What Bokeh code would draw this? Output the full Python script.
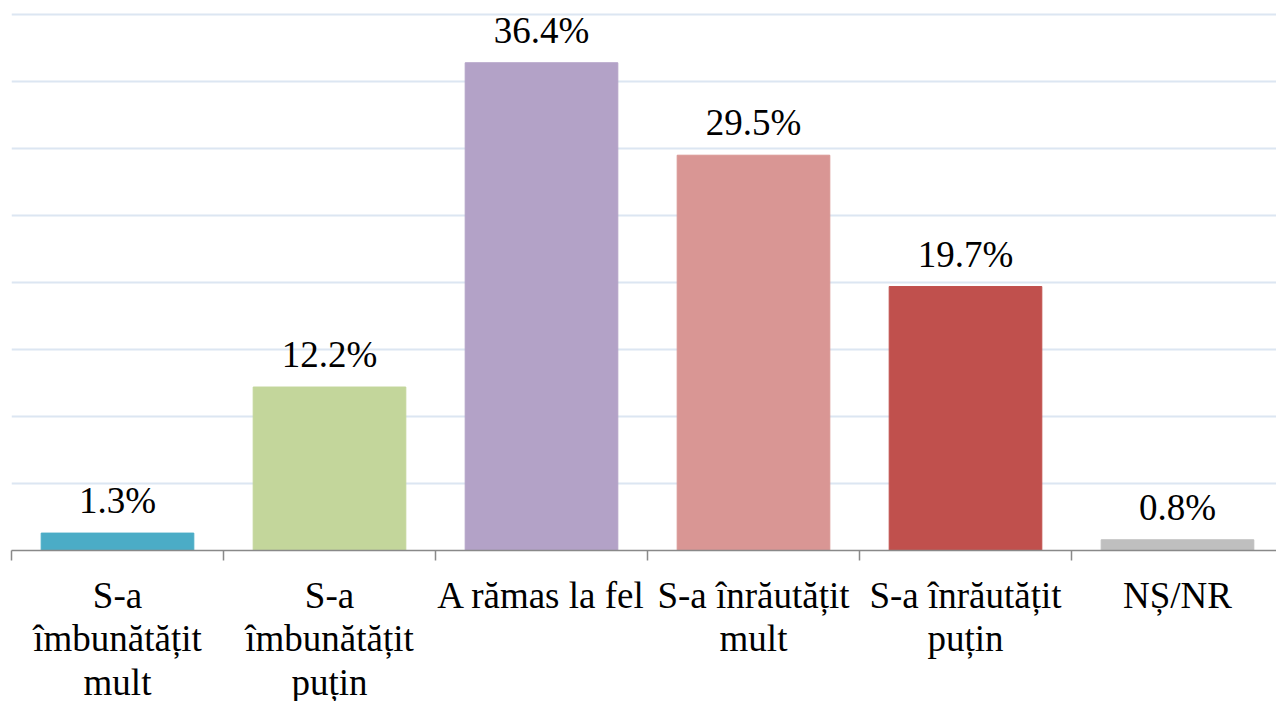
from bokeh.plotting import figure
from bokeh.models import Range1d, FixedTicker, ColumnDataSource, LabelSet
from bokeh.embed import file_html
from bokeh.resources import INLINE

categories = ["S-a\nîmbunătățit\nmult", "S-a\nîmbunătățit\npuțin", "A rămas la fel",
              "S-a înrăutățit\nmult", "S-a înrăutățit\npuțin", "NȘ/NR"]
values = [1.3, 12.2, 36.4, 29.5, 19.7, 0.8]
labels = ["1.3%", "12.2%", "36.4%", "29.5%", "19.7%", "0.8%"]
colors = ["#4BACC6", "#C3D69B", "#B3A2C7", "#D99694", "#C0504D", "#BFBFBF"]
grid_values = [5, 10, 15, 20, 25, 30, 35, 40]

FONT = "'Liberation Serif', 'Times New Roman', serif"
n = len(categories)
xs = [i + 0.5 for i in range(n)]

p = figure(output_backend="svg", toolbar_location=None,
           frame_width=1265, frame_height=540,
           x_range=Range1d(0, 1265 / 212), y_range=Range1d(0, 40.3),
           min_border_left=11, min_border_right=0, min_border_top=10, min_border_bottom=0)
p.outline_line_color = None
p.background_fill_color = "white"
p.border_fill_color = "white"

src = ColumnDataSource(dict(x=xs, top=values, color=colors, label=labels))
p.vbar(x="x", top="top", width=0.72, bottom=0, color="color", source=src)

p.add_layout(LabelSet(x="x", y="top", text="label", source=src,
                      text_align="center", text_baseline="alphabetic",
                      y_offset=20, text_font=FONT, text_font_size="37px",
                      text_color="black"))

p.yaxis.visible = False
p.ygrid.ticker = FixedTicker(ticks=grid_values)
p.ygrid.grid_line_color = "#DCE6F2"
p.ygrid.grid_line_width = 2
p.xgrid.visible = False

ax = p.xaxis[0]
ax.ticker = FixedTicker(ticks=xs, minor_ticks=list(range(n + 1)))
ax.major_label_overrides = {x: c for x, c in zip(xs, categories)}
ax.major_tick_out = 0
ax.major_tick_in = 0
ax.minor_tick_out = 10
ax.minor_tick_in = 0
ax.minor_tick_line_color = "#898989"
ax.minor_tick_line_width = 1.5
ax.axis_line_color = "#898989"
ax.axis_line_width = 1.5
ax.major_label_text_font = FONT
ax.major_label_text_font_size = "37px"
ax.major_label_text_line_height = 1.07
ax.major_label_text_color = "black"
ax.major_label_standoff = 14
ax.major_label_orientation = "horizontal"

open("out.html", "w").write(file_html(p, INLINE))
